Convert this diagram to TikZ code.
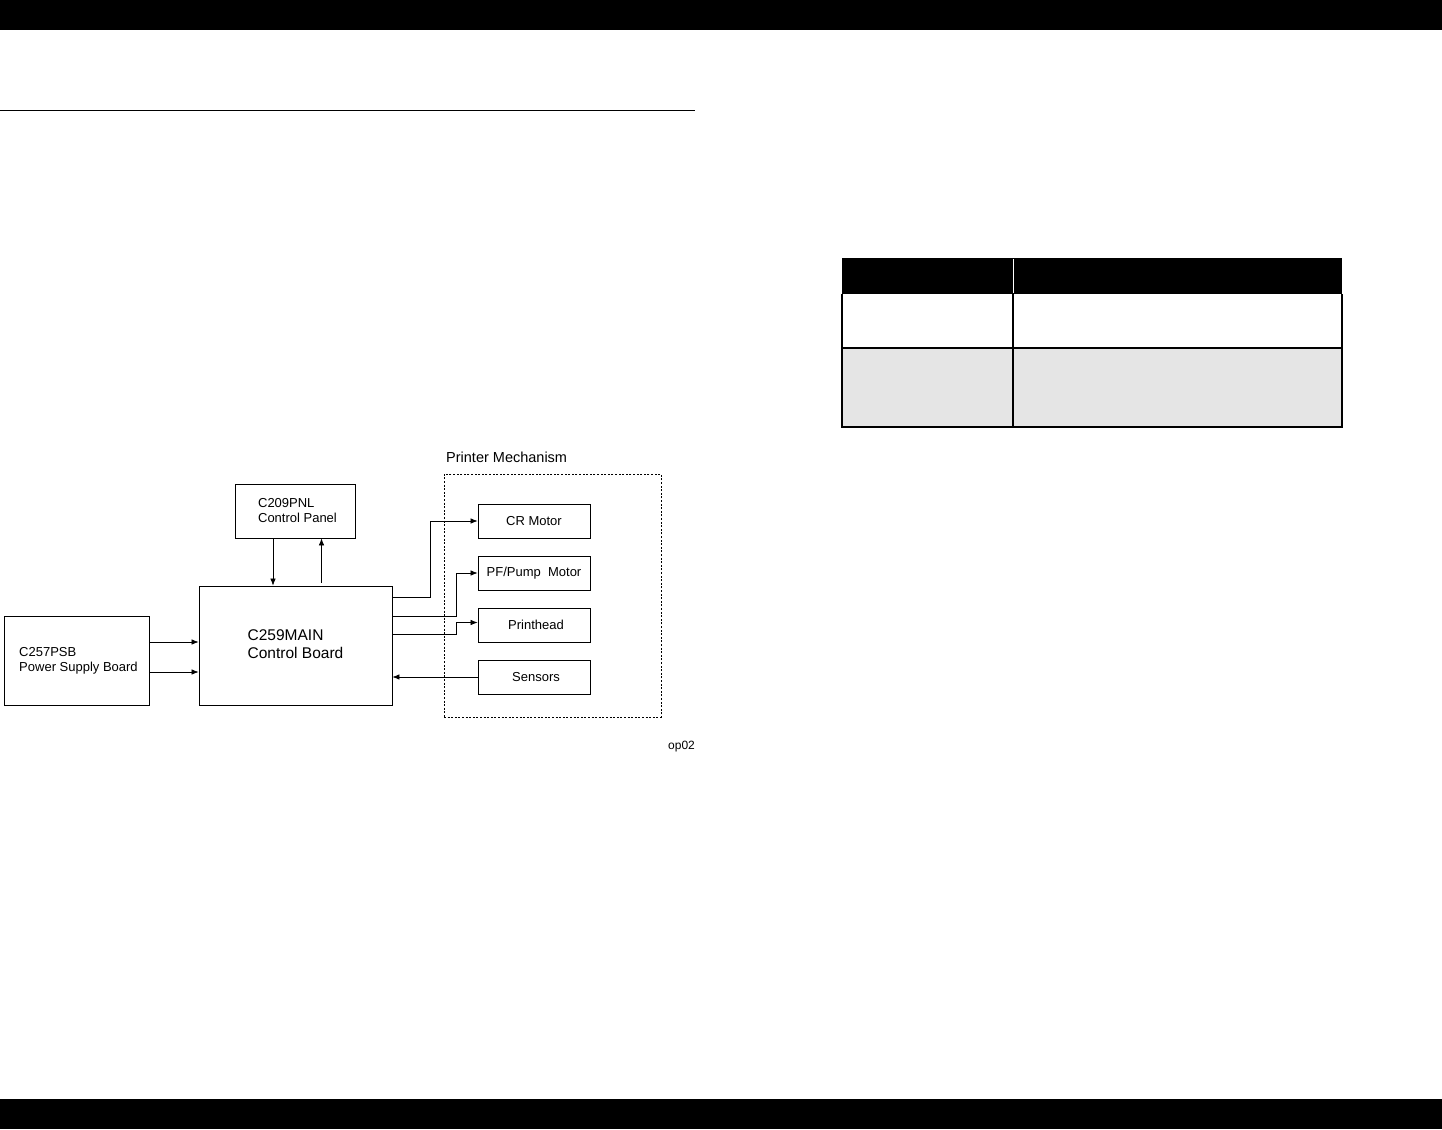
\documentclass[tikz,border=0pt]{standalone}
\usepackage{fontspec}
\setmainfont{Liberation Sans}
\usetikzlibrary{arrows.meta,shadows}
\definecolor{rowgrey}{HTML}{E5E5E5}
\begin{document}
\begin{tikzpicture}[x=1pt,y=-1pt,
  box/.style={draw, line width=0.8pt, fill=white, align=left, inner sep=0pt,
    general shadow={fill=black, shadow xshift=1pt, shadow yshift=-1pt},
    font=\fontsize{13}{15}\selectfont},
  arr/.style={line width=0.7pt, -{Latex[length=7pt,width=5.5pt]}},
  mechbox/.style={draw, line width=0.7pt, dash pattern=on 2pt off 1.6pt, inner sep=0pt},
  tline/.style={line width=1.4pt}]
\useasboundingbox (0,0) rectangle (1442,1129);
\fill[white] (0,0) rectangle (1442,1129);
% page bars
\fill[black] (0,0) rectangle (1442,30);
\fill[black] (0,1099) rectangle (1442,1129);
\draw[line width=1pt] (0,111) -- (695,111);

% table
\fill[black] (842,258) rectangle (1342,294);
\fill[rowgrey] (842,348) rectangle (1342,427);
\draw[white, line width=1pt] (1013,259) -- (1013,293);
\draw[tline] (842,294) -- (842,427) -- (1342,427) -- (1342,294);
\draw[tline] (842,348) -- (1342,348);
\draw[tline] (1013,294) -- (1013,427);

% mechanism group
\node[mechbox, minimum width=217pt, minimum height=243pt] (mech) at (552.5,595.5) {};
\node[anchor=base west, inner sep=0pt, font=\fontsize{14.5}{16}\selectfont] (mechlbl) at (446,462) {Printer Mechanism};

% boxes
\node[box, minimum width=120pt, minimum height=54pt] (pnl) at (295,511) {\hspace*{5pt}\raisebox{-2pt}{C209PNL}\\\hspace*{5pt}\raisebox{-2pt}{Control Panel}};
\node[box, minimum width=193pt, minimum height=119pt, font=\fontsize{15.5}{18}\selectfont] (main) at (295.5,645.5) {\raisebox{2pt}{C259MAIN}\\\raisebox{2pt}{Control Board}};
\node[box, minimum width=145pt, minimum height=89pt] (psb) at (76.5,660.5) {\hspace*{4pt}\raisebox{-1pt}{C257PSB}\\\hspace*{4pt}\raisebox{-1pt}{Power Supply Board}};
\node[box, align=center, minimum width=112pt, minimum height=34pt] (cr) at (534,521) {CR Motor};
\node[box, align=center, minimum width=112pt, minimum height=34pt] (pf) at (534,573) {PF/Pump\ \ Motor};
\node[box, align=center, minimum width=112pt, minimum height=34pt] (ph) at (534,625) {\raisebox{-3pt}{\hspace*{4pt}Printhead}};
\node[box, align=center, minimum width=112pt, minimum height=34pt] (sen) at (534,677) {\hspace*{4pt}Sensors};

\node[anchor=base west, inner sep=0pt, font=\fontsize{12}{14}\selectfont] (tag) at (668,749) {op02};

% connectors
\draw[arr] ([xshift=-22pt]pnl.south) -- ([xshift=-22pt]pnl.south |- main.north);
\draw[arr] ([xshift=26pt,yshift=3pt]main.north) -- ([xshift=26pt]main.north |- pnl.south);
\draw[arr] ([yshift=18.5pt]psb.east) -- ([yshift=18.5pt]psb.east -| main.west);
\draw[arr] ([yshift=-11.5pt]psb.east) -- ([yshift=-11.5pt]psb.east -| main.west);

\draw[arr] ([yshift=48.5pt]main.east) -- ++(38,0) |- (cr.west);
\draw[arr] ([yshift=29.5pt]main.east) -- ++(64,0) |- (pf.west);
\draw[arr] ([yshift=11.5pt]main.east) -- ++(64,0) |- ([yshift=2.5pt]ph.west);
\draw[arr] (sen.west) -- (sen.west -| main.east);
\end{tikzpicture}
\end{document}
